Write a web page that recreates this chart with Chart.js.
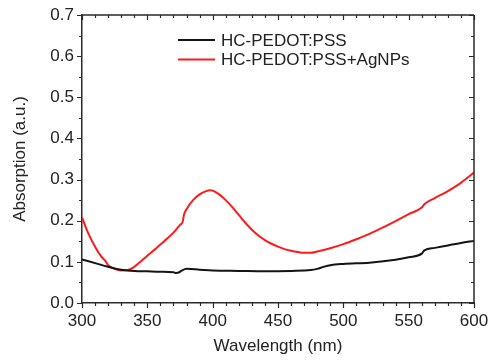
<!DOCTYPE html>
<html>
<head>
<meta charset="utf-8">
<script src="https://cdn.jsdelivr.net/npm/chart.js@4"></script>
<style>
  html, body { margin: 0; padding: 0; background: #fff; }
  #wrap { width: 488px; height: 361px; }
</style>
</head>
<body>
<div id="wrap"><canvas id="absChart" width="488" height="361"></canvas></div>
<script>
"use strict";

// 吸收光谱数据
const pedotWavelength = [300, 310, 320, 325, 330, 340, 350, 360, 370, 372, 374, 376, 380, 390, 400, 420, 440, 460, 475, 480, 485, 490, 500, 520, 540, 550, 560, 562, 570, 580, 590, 600];
const pedotAbs = [0.106, 0.097, 0.088, 0.084, 0.081, 0.078, 0.077, 0.076, 0.075, 0.073, 0.074, 0.078, 0.083, 0.081, 0.079, 0.078, 0.077, 0.078, 0.080, 0.083, 0.088, 0.092, 0.095, 0.098, 0.105, 0.111, 0.120, 0.128, 0.134, 0.140, 0.146, 0.151];

const agWavelength = [300, 305, 310, 315, 318, 320, 325, 330, 335, 340, 345, 350, 355, 360, 365, 370, 375, 377, 378, 380, 385, 390, 395, 398, 400, 405, 410, 415, 420, 425, 430, 435, 440, 445, 450, 455, 460, 465, 470, 475, 480, 490, 500, 510, 520, 530, 540, 550, 560, 562, 570, 580, 590, 600];
const agAbs = [0.208, 0.168, 0.137, 0.112, 0.102, 0.092, 0.083, 0.079, 0.080, 0.088, 0.101, 0.115, 0.128, 0.142, 0.156, 0.171, 0.190, 0.197, 0.214, 0.228, 0.250, 0.264, 0.272, 0.274, 0.273, 0.264, 0.250, 0.233, 0.214, 0.195, 0.178, 0.164, 0.153, 0.144, 0.137, 0.131, 0.127, 0.124, 0.122, 0.122, 0.125, 0.133, 0.143, 0.155, 0.168, 0.183, 0.199, 0.216, 0.232, 0.240, 0.255, 0.272, 0.292, 0.317];

const seriesLabels = ["HC-PEDOT:PSS", "HC-PEDOT:PSS+AgNPs"];
const seriesColors = ["#141414", "#ff1a1a"];

const FONT = "'Liberation Sans', Arial, sans-serif";
const AXIS = "#2a2a2a";

const toPoints = (xs, ys) => xs.map((x, i) => ({ x, y: ys[i] }));

// 刻度与边框: 左/下朝外, 上/右朝内
const framePlugin = {
  id: "frame",
  afterDraw(chart) {
    const { ctx, chartArea: a, scales } = chart;
    const xs = scales.x, ys = scales.y;
    ctx.save();
    ctx.strokeStyle = AXIS;
    ctx.lineWidth = 1.5;
    ctx.beginPath();
    ctx.moveTo(a.left, a.top); ctx.lineTo(a.right, a.top);
    ctx.moveTo(a.right, a.top); ctx.lineTo(a.right, a.bottom);
    ctx.stroke();

    ctx.lineWidth = 1.2;
    ctx.beginPath();
    for (let v = 300; v <= 600; v += 10) {
      const px = Math.round(xs.getPixelForValue(v)) + 0.5;
      const len = v % 50 === 0 ? 5 : 3;
      ctx.moveTo(px, a.bottom); ctx.lineTo(px, a.bottom + len);
      ctx.moveTo(px, a.top); ctx.lineTo(px, a.top + len);
    }
    for (let k = 0; k <= 14; k++) {
      const py = Math.round(ys.getPixelForValue(k * 0.05)) + 0.5;
      const len = k % 2 === 0 ? 5 : 3;
      ctx.moveTo(a.left, py); ctx.lineTo(a.left - len, py);
      ctx.moveTo(a.right, py); ctx.lineTo(a.right - len, py);
    }
    ctx.stroke();

    // 图例
    ctx.font = `17px ${FONT}`;
    ctx.textBaseline = "middle";
    ctx.fillStyle = "#222";
    seriesLabels.forEach((label, i) => {
      const y = 40 + i * 19.5;
      ctx.strokeStyle = seriesColors[i];
      ctx.lineWidth = 2;
      ctx.beginPath();
      ctx.moveTo(178, y); ctx.lineTo(215, y);
      ctx.stroke();
      ctx.fillText(label, 221, y + 1);
    });
    ctx.restore();
  },
};

new Chart(document.getElementById("absChart"), {
  type: "line",
  data: {
    datasets: [
      {
        label: seriesLabels[0],
        data: toPoints(pedotWavelength, pedotAbs),
        borderColor: seriesColors[0],
        borderWidth: 2,
        pointRadius: 0,
        cubicInterpolationMode: "monotone",
        fill: false,
      },
      {
        label: seriesLabels[1],
        data: toPoints(agWavelength, agAbs),
        borderColor: seriesColors[1],
        borderWidth: 2,
        pointRadius: 0,
        cubicInterpolationMode: "monotone",
        fill: false,
      },
    ],
  },
  options: {
    responsive: false,
    animation: false,
    layout: { padding: { left: 0, right: 14, top: 15, bottom: 0 } },
    plugins: { legend: { display: false }, tooltip: { enabled: false } },
    scales: {
      x: {
        type: "linear",
        min: 300,
        max: 600,
        grid: { display: false, drawTicks: false },
        border: { display: true, color: AXIS, width: 1.5 },
        ticks: { stepSize: 50, padding: 8, color: "#222", font: { family: FONT, size: 17 } },
        title: { display: true, text: "Wavelength (nm)", color: "#222", font: { family: FONT, size: 17 }, padding: { top: 0, bottom: 4 } },
        afterFit: (s) => { s.height = 58; s.paddingLeft = 0; s.paddingRight = 0; },
      },
      y: {
        min: 0,
        max: 0.7,
        grid: { display: false, drawTicks: false },
        border: { display: true, color: AXIS, width: 1.5 },
        ticks: {
          stepSize: 0.1,
          padding: 8,
          color: "#222",
          font: { family: FONT, size: 17 },
          callback: (v) => v.toFixed(1),
        },
        title: { display: true, text: "Absorption (a.u.)", color: "#222", font: { family: FONT, size: 17 }, padding: { top: 10, bottom: 0 } },
        afterFit: (s) => { s.width = 82; s.paddingTop = 0; s.paddingBottom = 0; },
      },
    },
  },
  plugins: [framePlugin],
});
</script>
</body>
</html>
